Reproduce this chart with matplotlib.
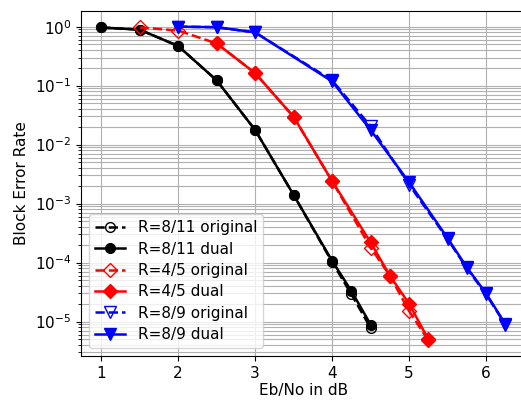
import numpy as np
import matplotlib
matplotlib.use("Agg")
from matplotlib import pyplot as plt

plt.rcParams['font.size'] = 11

# Eb/No 点和误块率
x_811 = [1, 1.5, 2, 2.5, 3, 3.5, 4, 4.25, 4.5]
bler_811_orig = [0.97, 0.89, 0.47, 0.123, 0.0177, 0.0014, 1.02e-4, 2.9e-5, 7.8e-6]
bler_811_dual = [0.97, 0.89, 0.47, 0.123, 0.0177, 0.0014, 1.07e-4, 3.3e-5, 8.9e-6]

x_45_orig = [1.5, 2, 2.5, 3, 3.5, 4, 4.5, 4.75, 5, 5.25]
bler_45_orig = [0.97, 0.86, 0.52, 0.163, 0.0296, 0.0024, 1.8e-4, 6.0e-5, 1.5e-5, 4.8e-6]
x_45_dual = [2.5, 3, 3.5, 4, 4.5, 4.75, 5, 5.25]
bler_45_dual = [0.52, 0.163, 0.0296, 0.0024, 2.2e-4, 6.0e-5, 2.0e-5, 5.0e-6]

x_89 = [2, 2.5, 3, 4, 4.5, 5, 5.5, 5.75, 6, 6.25]
bler_89_orig = [1.0, 0.98, 0.80, 0.123, 0.0205, 0.0021, 2.5e-4, 8.0e-5, 2.9e-5, 8.9e-6]
bler_89_dual = [1.0, 0.98, 0.80, 0.118, 0.0177, 0.0023, 2.6e-4, 8.3e-5, 3.0e-5, 9.1e-6]

fig = plt.figure(figsize=(5.21, 4.03), dpi=100)
ax = fig.add_axes([81 / 521, 47 / 403, 444.5 / 521, 345 / 403])

ms = 7
lw = 1.8
ax.semilogy(x_811, bler_811_orig, 'k--o', mfc='none', ms=ms, lw=lw, label='R=8/11 original')
ax.semilogy(x_811, bler_811_dual, 'k-o', ms=ms, lw=lw, label='R=8/11 dual')
ax.semilogy(x_45_orig, bler_45_orig, 'r--D', mfc='none', ms=ms, lw=lw, label='R=4/5 original')
ax.semilogy(x_45_dual, bler_45_dual, 'r-D', ms=ms, lw=lw, label='R=4/5 dual')
ax.semilogy(x_89, bler_89_orig, 'b--v', mfc='none', ms=ms + 1, lw=lw, label='R=8/9 original')
ax.semilogy(x_89, bler_89_dual, 'b-v', ms=ms + 1, lw=lw, label='R=8/9 dual')

ax.grid(True, which='both')
ax.set_xlabel('Eb/No in dB', labelpad=2)
ax.set_ylabel('Block Error Rate')
ax.legend(loc='lower left', fontsize=11, labelspacing=0.42)

plt.savefig('out.png', dpi=100)
